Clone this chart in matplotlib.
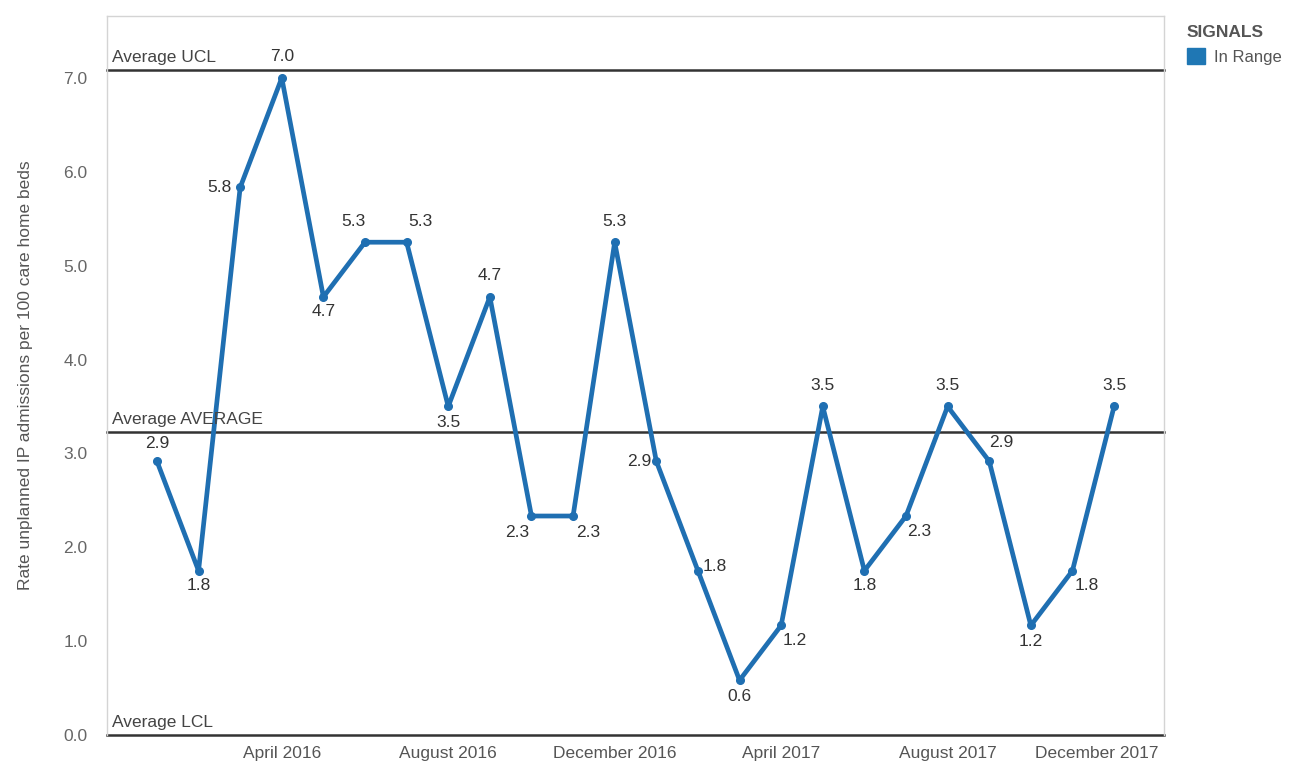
import math
import matplotlib
matplotlib.use('Agg')
import matplotlib.pyplot as plt
import matplotlib.transforms as mtransforms
from matplotlib.patches import Patch

plt.rcParams['font.family'] = ['Liberation Sans', 'DejaVu Sans']

# monthly rate, Jan 2016 .. Dec 2017
months = ['January 2016', 'February 2016', 'March 2016', 'April 2016', 'May 2016', 'June 2016',
          'July 2016', 'August 2016', 'September 2016', 'October 2016', 'November 2016', 'December 2016',
          'January 2017', 'February 2017', 'March 2017', 'April 2017', 'May 2017', 'June 2017',
          'July 2017', 'August 2017', 'September 2017', 'October 2017', 'November 2017', 'December 2017']
rate = [2.917, 1.750, 5.833, 7.000, 4.667, 5.250, 5.250, 3.500, 4.667, 2.333, 2.333, 5.250,
        2.917, 1.750, 0.583, 1.167, 3.500, 1.750, 2.333, 3.500, 2.917, 1.167, 1.750, 3.500]
ucl = 7.08
lcl = 0.0
shown_months = ['April 2016', 'August 2016', 'December 2016', 'April 2017', 'August 2017', 'December 2017']
y_ticks = [0, 1, 2, 3, 4, 5, 6, 7]

# where each value label sits relative to its point (pixels)
label_offsets = [(0, 18), (0, -15), (-21, 0), (0, 21), (0, -15), (-12, 21), (14, 21), (0, -16),
                 (0, 21), (-14, -16), (15, -16), (0, 21), (-17, 0), (17, 4), (0, -16), (14, -15),
                 (0, 21), (0, -15), (13, -15), (0, 21), (12, 19), (0, -16), (14, -15), (0, 21)]

avg = sum(rate) / len(rate)
blue = '#1f6fb2'
dark = '#333333'
fs = 12.5

fig = plt.figure(figsize=(13.02, 7.67), dpi=100)
ax = fig.add_axes([107 / 1302, 32 / 767, (1164 - 107) / 1302, (735 - 16) / 767])

x = list(range(len(rate)))
ax.plot(x, rate, color=blue, lw=3.4, marker='o', ms=5.5, solid_joinstyle='round', zorder=3)

for xi, v, (dx, dy) in zip(x, rate, label_offsets):
    txt = '%.1f' % (math.floor(v * 10 + 0.5) / 10)
    ax.annotate(txt, (xi, v), xytext=(dx, dy), textcoords='offset pixels',
                ha='center', va='center', fontsize=fs, color=dark, zorder=4)

for val, name in [(ucl, 'Average UCL'), (avg, 'Average AVERAGE'), (lcl, 'Average LCL')]:
    ax.axhline(val, color=dark, lw=1.8, zorder=2, clip_on=False)
    ax.annotate(name, (0, val), xycoords=('axes fraction', 'data'), xytext=(5, 5),
                textcoords='offset pixels', ha='left', va='bottom', fontsize=fs, color='#444444')

ax.set_xlim(-1.2, 24.2)
ax.set_ylim(0, 7.66)
ax.set_xticks([months.index(m) for m in shown_months])
ax.set_xticklabels(shown_months)
ax.set_yticks(y_ticks)
ax.set_yticklabels(['%.1f' % t for t in y_ticks])
ax.tick_params(axis='x', length=0, pad=8, labelsize=fs, labelcolor='#555555')
ax.tick_params(axis='y', length=0, pad=14, labelsize=fs, labelcolor='#666666')

# last tick label pulled back inside the frame
last = ax.get_xticklabels()[-1]
last.set_horizontalalignment('right')
last.set_transform(last.get_transform() + mtransforms.ScaledTranslation(0.44, 0, fig.dpi_scale_trans))

ax.set_ylabel('Rate unplanned IP admissions per 100 care home beds', fontsize=fs, color='#555555', labelpad=22)
for s in ['top', 'right', 'left']:
    ax.spines[s].set_color('#d4d4d4')
    ax.spines[s].set_linewidth(1)
ax.spines['bottom'].set_visible(False)

leg = fig.legend(handles=[Patch(facecolor='#1f77b4', edgecolor='#1f77b4', label='In Range')],
                 title='SIGNALS', loc='upper left', bbox_to_anchor=(1187 / 1302, 1 - 25 / 767),
                 frameon=False, fontsize=fs - 0.5, handlelength=1.1, handleheight=1.1,
                 handletextpad=0.5, borderaxespad=0, borderpad=0)
leg.get_title().set_fontsize(fs)
leg.get_title().set_fontweight('bold')
leg.get_title().set_color('#555555')
leg._legend_box.align = 'left'
for t in leg.get_texts():
    t.set_color('#555555')

fig.savefig('out.png', dpi=100)
